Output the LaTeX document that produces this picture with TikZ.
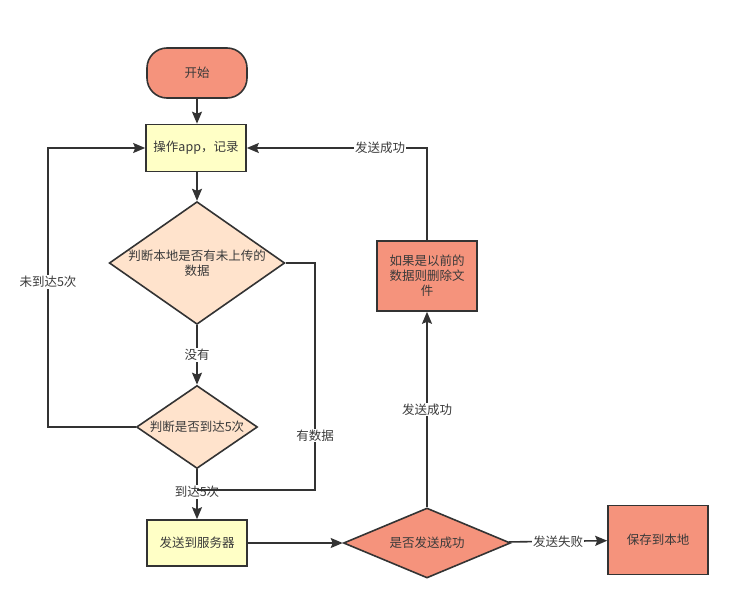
\documentclass[tikz,border=0pt]{standalone}
\usepackage{fontspec}
\setmainfont{Noto Sans CJK SC}
\usepackage{tikz}
\usetikzlibrary{arrows.meta,positioning,shapes.geometric,calc}
\definecolor{FCLine}{HTML}{333333}
\definecolor{FCText}{HTML}{3A3A3A}
\definecolor{FCSalmon}{HTML}{F5937C}
\definecolor{FCYellow}{HTML}{FFFFC6}
\definecolor{FCPeach}{HTML}{FFE3CC}

\begin{document}
\begin{tikzpicture}[
  x=1pt,y=-1pt,
  every node/.style={font=\fontsize{12.5}{15}\selectfont,text=FCText},
  base/.style={draw=FCLine,line width=1.6pt,align=center,inner sep=0pt},
  term/.style={base,fill=FCSalmon,rounded corners=20pt,minimum width=100pt,minimum height=50pt},
  proc/.style={base,fill=FCYellow,minimum width=100pt,minimum height=47pt},
  hot/.style={base,fill=FCSalmon,minimum width=100pt,minimum height=70pt},
  dec/.style={base,diamond,fill=FCPeach},
  arr/.style={-{Stealth[length=12pt,width=10pt,inset=2pt]},line width=1.6pt,draw=FCLine},
  ln/.style={line width=1.6pt,draw=FCLine},
  lbl/.style={fill=white,inner sep=1pt}
]
\useasboundingbox (0,0) rectangle (739,610);
\node[term] (start) at (197,73) {开始};
\node[proc] (op) at (196,148) {操作app，记录};
\node[dec,minimum width=172pt,minimum height=120pt,shape aspect=1.43] (chk) at (197,263) {判断本地是否有未上传的\\数据};
\node[dec,minimum width=121pt,minimum height=83pt,shape aspect=1.46] (cnt) at (197,427) {判断是否到达5次};
\node[proc,minimum height=46pt] (send) at (197,543) {发送到服务器};
\node[dec,fill=FCSalmon,minimum width=167pt,minimum height=70pt,shape aspect=2.4] (ok) at (427,543) {是否发送成功};
\node[hot,minimum height=69pt] (save) at (658,540) {保存到本地};
\node[hot] (del) at (427,276) {如果是以前的\\数据则删除文\\件};
\coordinate (c1) at (315,263);
\coordinate (c2) at (48,427);
\coordinate (join) at (197,490);

\draw[arr] (start) -- (start |- op.north);
\draw[arr] (op.south -| chk) -- (chk);
\draw[arr] (chk) -- node[lbl]{没有} (cnt);
\draw[arr] (cnt) -- node[lbl,pos=0.45]{到达5次} (send);
\draw[ln] (chk.east) -- (c1) |- node[lbl,pos=0.38]{有数据} (join);
\draw[arr] (cnt.west) -- (c2) |- node[lbl,pos=0.26]{未到达5次} (op.west);
\draw[arr] (send) -- (ok);
\draw[arr] (ok) -- node[lbl]{发送失败} (save);
\draw[arr] (ok) -- node[lbl,pos=0.5]{发送成功} (del);
\draw[arr] (del) |- node[lbl,pos=0.63]{发送成功} (op.east);
\end{tikzpicture}
\end{document}
